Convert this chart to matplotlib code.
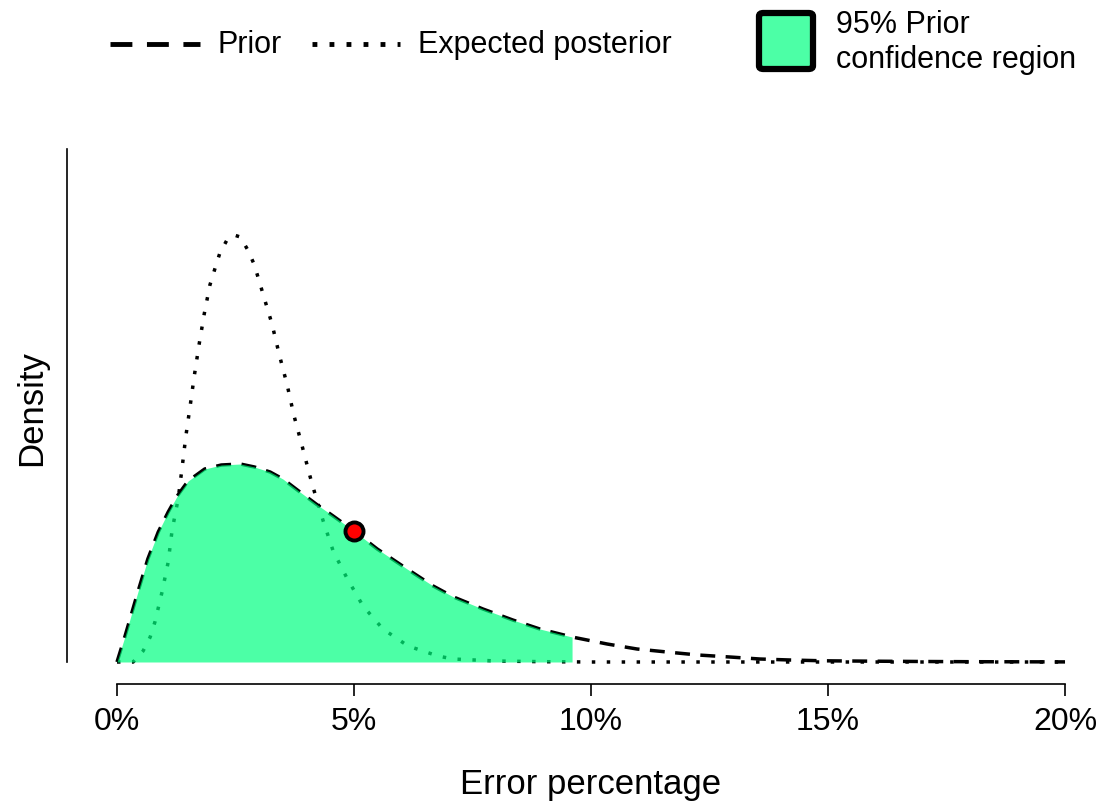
import numpy as np
import matplotlib
matplotlib.use("Agg")
import matplotlib.pyplot as plt
from matplotlib.lines import Line2D
from matplotlib.patches import FancyBboxPatch

plt.rcParams['font.family'] = ['Liberation Sans', 'DejaVu Sans']

# error percentage (%) and relative density
prior_x = [0, 0.17, 0.44, 0.65, 0.87, 1.08, 1.27, 1.5, 1.85,
           2.2, 2.6, 2.9, 3.23, 3.5, 3.86, 4.2, 4.56, 5.0,
           5.49, 6.12, 6.67, 7.1, 7.72, 8.35, 8.92, 9.6,
           10.34, 10.97, 11.6, 12.26, 12.93, 13.56, 14.2, 14.9,
           16, 17, 18, 19, 20]
prior_y = [0, 26, 70, 103, 130, 150, 166, 181, 193,
           197, 198, 195, 190, 183, 170, 158, 146, 131,
           113, 93, 76, 65, 53, 42, 33, 25,
           18, 13, 10, 7, 5, 3, 2, 1.2,
           0.8, 0.5, 0.3, 0.2, 0.1]

post_x = [0, 0.34, 0.55, 0.7, 0.8, 0.95, 1.08, 1.16, 1.22, 1.29,
          1.37, 1.45, 1.54, 1.63, 1.73, 1.84, 1.96, 2.07, 2.17, 2.32,
          2.47, 2.6, 2.76, 2.89, 3.0, 3.08, 3.27, 3.42, 3.59, 3.73,
          3.9, 4.07, 4.16, 4.35, 4.56, 4.85, 5.19, 5.61, 6.14, 6.77,
          7.09, 8, 9, 10, 20]
post_y = [0, 0, 11, 25, 40, 70, 100, 131, 146, 163,
          193, 225, 255, 286, 317, 348, 377, 394, 409, 422,
          427, 425, 412, 398, 381, 368, 338, 308, 277, 247,
          217, 186, 171, 141, 111, 84, 56, 33, 16, 6,
          3, 1, 0.3, 0, 0]

ci_upper = 9.6          # upper end of 95% prior region (%)
obs_x = 5.0             # observed error
obs_y = 131

ticks = [0, 5, 10, 15, 20]
tick_labels = ["0%", "5%", "10%", "15%", "20%"]

fill_col = (0.0, 1.0, 0.5, 0.7)

fig = plt.figure(figsize=(11.02, 8.04), dpi=100)
ax = fig.add_axes([67/1102, 119/804, 1013/1102, 535/804])

ax.plot(prior_x, prior_y, color="black", lw=2.5, linestyle=(0, (4.3, 3)), zorder=2)
ax.plot(post_x, post_y, color="black", lw=2.5, linestyle=(0, (1, 3.3)), zorder=2)

px = np.array(prior_x)
py = np.array(prior_y)
m = px <= ci_upper
ax.fill_between(px[m], 0, py[m], color=fill_col, lw=0, zorder=3)

ax.plot([obs_x], [obs_y], "o", ms=13, mfc="red", mec="black", mew=2.8, zorder=4)

ax.set_xlim(-1.055, 20.316)
ax.set_ylim(-22, 513)
ax.spines["top"].set_visible(False)
ax.spines["right"].set_visible(False)
ax.spines["left"].set_bounds(0, 513)
ax.spines["bottom"].set_bounds(0, 20)
ax.spines["left"].set_linewidth(1.2)
ax.spines["bottom"].set_linewidth(1.2)
ax.set_yticks([])
ax.set_xticks(ticks)
ax.set_xticklabels(tick_labels, fontsize=23)
ax.tick_params(axis="x", length=8.6, width=1.2, pad=7)

fig.text(32/1102, 1 - 408/804, "Density", rotation=90, ha="center", va="center", fontsize=25)
fig.text(591/1102, 1 - 785/804, "Error percentage", ha="center", va="center", fontsize=25)

# legend drawn by hand
ly = 1 - 45/804
fig.add_artist(Line2D([110/1102, 200/1102], [ly, ly], color="black", lw=3.5,
                      linestyle=(0, (4.5, 3))))
fig.text(218/1102, ly, "Prior", ha="left", va="center", fontsize=22)
fig.add_artist(Line2D([312/1102, 400/1102], [ly, ly], color="black", lw=3.5,
                      linestyle=(0, (1, 2.5))))
fig.text(418/1102, ly, "Expected posterior", ha="left", va="center", fontsize=22)
fig.add_artist(FancyBboxPatch((759/1102, 1 - 70/804), 54/1102, 56/804,
                              boxstyle="round,pad=0,rounding_size=0.004",
                              transform=fig.transFigure, fc=fill_col, ec="black", lw=4.5))
fig.text(836/1102, 1 - 25/804, "95% Prior", ha="left", va="center", fontsize=22)
fig.text(836/1102, 1 - 60/804, "confidence region", ha="left", va="center", fontsize=22)

fig.savefig("out.png", dpi=100, facecolor="white")
